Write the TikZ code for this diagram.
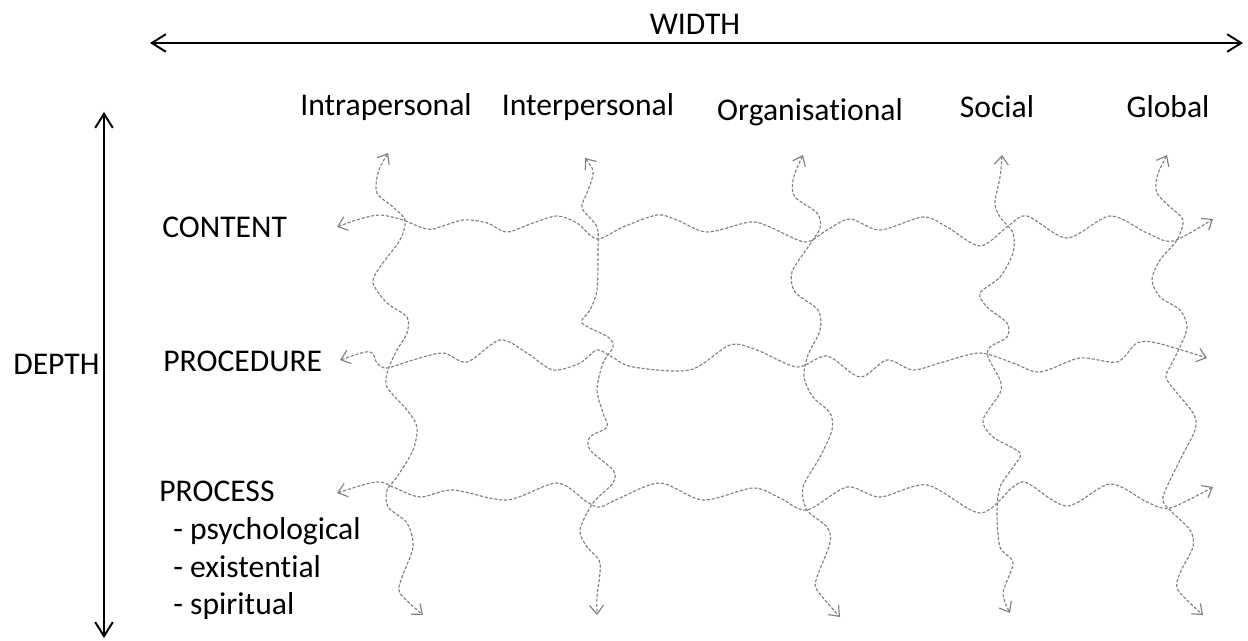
\documentclass[tikz,border=0pt]{standalone}
\usepackage{fontspec}
\setmainfont{Carlito}[Ligatures=NoCommon]
\usepackage{tikz}
\usetikzlibrary{arrows.meta}
\tikzset{
lbl/.style={inner sep=0pt,font=\fontsize{18}{22}\selectfont},
axis/.style={line width=1.1pt,{Straight Barb[length=8pt,width=10pt]}-{Straight Barb[length=8pt,width=10pt]}},
wave/.style={gray,line width=0.65pt,dash pattern=on 1.8pt off 1pt,{Straight Barb[length=5pt,width=8pt]}-{Straight Barb[length=5pt,width=8pt]}}
}

\begin{document}
\begin{tikzpicture}[x=0.02cm,y=-0.02cm]
\useasboundingbox (0,0) rectangle (1248,641);
%axes
\coordinate (wl) at (150,43);
\coordinate (wr) at (1243,43);
\coordinate (dt) at (104,112);
\coordinate (db) at (104,638);
\draw[axis] (wl) -- (wr);
\draw[axis] (dt) -- (db);
\path (695,35) node(width)[lbl,anchor=base]{WIDTH}
(13,375) node(depth)[lbl,anchor=base west]{DEPTH};

\path (386,116) node(intra)[lbl,anchor=base]{Intrapersonal}
(588,116) node(inter)[lbl,anchor=base]{Interpersonal}
(810,121) node(org)[lbl,anchor=base]{Organisational}
(997,118) node(soc)[lbl,anchor=base]{Social}
(1168,118) node(glob)[lbl,anchor=base]{Global};

\path (162,238) node(content)[lbl,anchor=base west]{CONTENT}
(163,372) node(proc)[lbl,anchor=base west]{PROCEDURE}
(159,502) node(process)[lbl,anchor=base west]{PROCESS}
(173,540) node(psy)[lbl,anchor=base west]{- psychological}
(173,578) node(exi)[lbl,anchor=base west]{- existential}
(173,615) node(spi)[lbl,anchor=base west]{- spiritual};

%rows
\draw[wave] plot[smooth,tension=0.5] coordinates {(337,227) (360,219) (380,215) (403,220) (420,227) (433,229) (463,220) (487,223) (507,232) (533,223) (557,216) (577,223) (597,239) (623,227) (657,215) (677,220) (707,232) (750,222) (770,227) (805,242) (827,230) (850,219) (880,230) (923,217) (947,227) (980,246) (1007,227) (1027,216) (1067,238) (1110,216) (1147,233) (1173,241) (1213,219)};
\draw[wave] plot[smooth,tension=0.5] coordinates {(340,360) (370,352) (377,363) (387,368) (413,360) (443,353) (467,362) (500,340) (527,353) (553,370) (580,363) (597,350) (612,357) (633,367) (690,370) (730,345) (757,350) (797,367) (827,356) (860,377) (887,360) (913,370) (943,362) (980,353) (1013,363) (1040,372) (1080,358) (1117,362) (1137,343) (1157,343) (1207,358)};
\draw[wave] plot[smooth,tension=0.5] coordinates {(337,493) (377,482) (393,487) (420,497) (453,490) (507,500) (557,483) (587,502) (600,507) (620,498) (660,483) (703,500) (753,488) (780,498) (807,510) (847,487) (880,497) (927,485) (980,513) (1013,487) (1027,483) (1067,506) (1110,484) (1147,502) (1170,508) (1213,487)};

%columns
\draw[wave] plot[smooth,tension=0.5] coordinates {(388,153) (378,173) (377,193) (393,207) (405,220) (400,240) (380,267) (373,283) (387,303) (407,317) (407,333) (397,350) (388,370) (387,387) (407,410) (417,427) (413,450) (397,477) (387,490) (388,507) (407,523) (413,547) (402,577) (400,593) (423,615)};
\draw[wave] plot[smooth,tension=0.5] coordinates {(585,158) (593,173) (587,193) (582,208) (597,227) (598,250) (597,290) (590,310) (582,323) (608,337) (613,347) (603,363) (597,390) (603,413) (607,427) (590,437) (590,450) (613,470) (613,483) (593,503) (580,530) (587,547) (600,563) (597,597) (597,615)};
\draw[wave] plot[smooth,tension=0.5] coordinates {(803,155) (793,180) (795,197) (817,213) (820,228) (808,247) (792,272) (795,292) (818,310) (820,330) (808,355) (804,377) (813,397) (830,413) (832,430) (820,457) (803,487) (807,510) (827,527) (830,543) (817,577) (817,590) (840,617)};
\draw[wave] plot[smooth,tension=0.5] coordinates {(1002,155) (1000,177) (995,203) (1000,217) (1013,233) (1013,253) (1000,277) (980,293) (987,307) (1007,323) (1007,337) (990,347) (988,357) (1000,380) (1000,393) (983,420) (993,437) (1020,453) (1013,467) (1000,487) (997,513) (1000,547) (1013,563) (1003,593) (1010,613)};
\draw[wave] plot[smooth,tension=0.5] coordinates {(1167,155) (1157,177) (1157,193) (1170,207) (1183,220) (1177,240) (1160,260) (1152,280) (1160,297) (1180,310) (1187,327) (1180,347) (1170,367) (1167,380) (1193,413) (1195,430) (1180,460) (1163,497) (1170,510) (1190,530) (1193,547) (1180,573) (1178,590) (1203,615)};
\end{tikzpicture}
\end{document}
